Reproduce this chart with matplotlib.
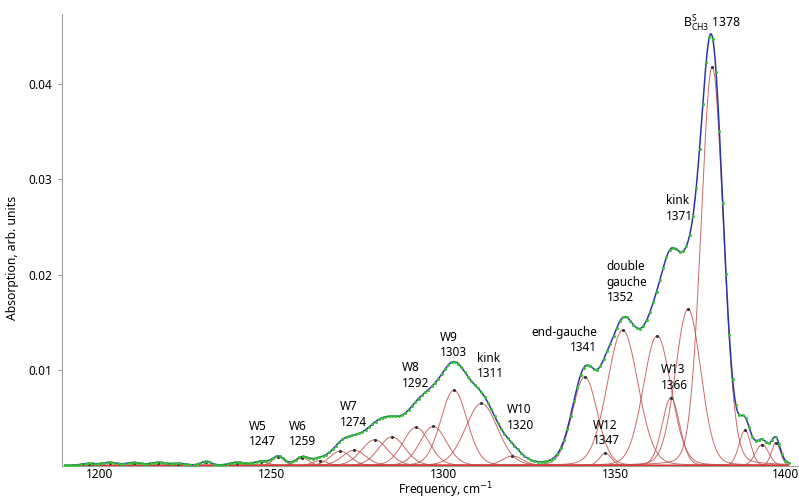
import numpy as np
import matplotlib
matplotlib.use("Agg")
import matplotlib.pyplot as plt
import matplotlib.transforms as mtransforms

plt.rcParams["font.family"] = ["Noto Sans", "DejaVu Sans"]

# Fitted band parameters: position (cm^-1), peak absorption, FWHM (cm^-1)
band_centers = [1197, 1203, 1210, 1217, 1223, 1231, 1240, 1247, 1252, 1259, 1264,
                1270, 1274, 1280, 1285, 1292, 1297, 1303, 1311, 1320,
                1341, 1347, 1352, 1362, 1366, 1371, 1378, 1387.5, 1392.5, 1396.5]
band_heights = [0.0002, 0.0003, 0.0003, 0.0003, 0.0002, 0.0004, 0.0003, 0.0004, 0.0009, 0.0008, 0.0005,
                0.0015, 0.0016, 0.0027, 0.0030, 0.0040, 0.0041, 0.0079, 0.0065, 0.0010,
                0.0093, 0.0013, 0.0142, 0.0136, 0.0071, 0.0164, 0.0418, 0.0037, 0.0022, 0.0024]
band_widths = [5, 5, 5, 5, 5, 3.5, 5, 5, 4, 4.5, 5,
               7, 8, 9, 9, 9, 9, 9, 11, 7,
               8.5, 4, 10.5, 9.5, 6, 8.7, 7.6, 4, 4.5, 3]
lorentz_fraction = 0.1

x_ticks = [1200, 1250, 1300, 1350, 1400]
y_ticks = [0.01, 0.02, 0.03, 0.04]

# Band labels: text, anchor frequency, anchor absorption, horizontal alignment
label_texts = ["W5\n1247", "W6\n1259", "W7\n1274", "W8\n1292", "W9\n1303",
               "kink\n1311", "W10\n1320", "end-gauche\n1341", "W12\n1347",
               "double\ngauche\n1352", "W13\n1366", "kink\n1371"]
label_x = [1243.6, 1255.0, 1270.0, 1287.9, 1298.8, 1309.8, 1318.5, 1344.5, 1343.3,
           1347.3, 1363.1, 1364.5]
label_y = [0.00477, 0.00477, 0.00681, 0.01094, 0.01412, 0.01191, 0.00654, 0.01466, 0.00492,
           0.02152, 0.01073, 0.02843]
label_ha = ["left", "left", "left", "left", "left", "left", "left", "right", "left",
            "left", "left", "left"]


def pseudo_voigt(x, c, h, w, eta):
    g = np.exp(-4 * np.log(2) * ((x - c) / w) ** 2)
    lor = 1.0 / (1.0 + ((x - c) / (w / 2)) ** 2)
    return h * (eta * lor + (1 - eta) * g)


x = np.linspace(1190, 1400, 2000)
x_pts = np.arange(1190, 1400.5, 0.96)

components = [pseudo_voigt(x, c, h, w, lorentz_fraction)
              for c, h, w in zip(band_centers, band_heights, band_widths)]
total = np.sum(components, axis=0)
total_pts = np.sum([pseudo_voigt(x_pts, c, h, w, lorentz_fraction)
                    for c, h, w in zip(band_centers, band_heights, band_widths)], axis=0)

fig = plt.figure(figsize=(7.99, 5.0), dpi=100)
ax = fig.add_axes([62 / 799, 34.5 / 500, 737 / 799, 451.5 / 500])

for comp in components:
    ax.plot(x, comp, color="#c0504d", lw=0.7, alpha=0.85, zorder=2)
ax.plot([1190, 1400], [0, 0], color="#e8312a", lw=1.6, zorder=3)
ax.plot(band_centers, band_heights, ".", color="#333333", ms=2.5, zorder=4)
ax.plot(x, total, color="#2b36a6", lw=1.1, zorder=5)
ax.plot(x_pts, total_pts, "o", color="#36c036", ms=2.2, mec="none", zorder=6)

ax.set_xlim(1189.2, 1403.2)
ax.set_ylim(0, 0.0473)
ax.set_xticks(x_ticks)
ax.set_yticks(y_ticks)
ax.set_yticklabels([f"{v:.2f}" for v in y_ticks])
for s in ("top", "right"):
    ax.spines[s].set_visible(False)
for s in ("left", "bottom"):
    ax.spines[s].set_color("#a0a0a0")
ax.tick_params(axis="y", length=3, color="#a0a0a0", labelsize=8.5, pad=4)
ax.tick_params(axis="x", length=0, labelsize=8.5, pad=2)

# keep the last frequency label inside the figure edge
last_lbl = ax.xaxis.get_major_ticks()[-1].label1
last_lbl.set_transform(last_lbl.get_transform()
                       + mtransforms.ScaledTranslation(-2.5 / 100, 0, fig.dpi_scale_trans))

ax.set_ylabel("Absorption, arb. units", fontsize=8.8)
ax.yaxis.set_label_coords(-0.058, 0.46)
ax.set_xlabel(r"Frequency, cm$^{-1}$", fontsize=8.6)
ax.xaxis.set_label_coords(0.52, -0.034)

for t, lx, ly, ha in zip(label_texts, label_x, label_y, label_ha):
    ax.text(lx, ly, t, ha=ha, va="top", fontsize=8.5, linespacing=1.25,
            multialignment=ha)
ax.text(1369.5, 0.04586, r"$\mathregular{B^{S}_{CH3}}$ 1378", ha="left",
        va="baseline", fontsize=8.8)

fig.savefig("out.png", dpi=100)
